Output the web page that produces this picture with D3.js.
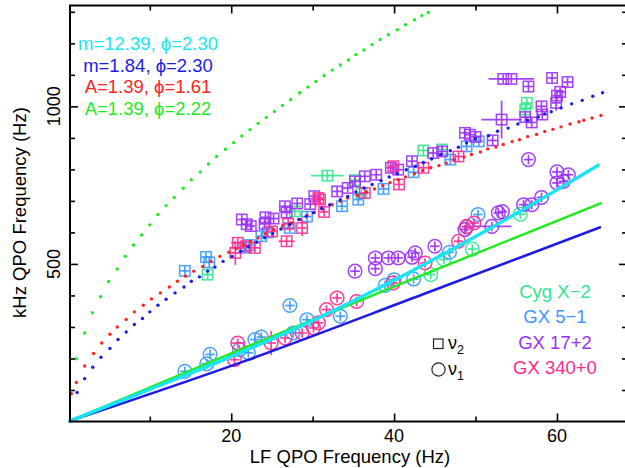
<!DOCTYPE html>
<html>
<head>
<meta charset="utf-8">
<script src="https://cdn.jsdelivr.net/npm/d3@7"></script>
<style>
  body { margin: 0; background: #fff; }
  text { font-family: "Liberation Sans", Arial, Helvetica, sans-serif; }
</style>
</head>
<body>
<svg id="chart" width="625" height="468"></svg>
<script>
// ---- data ----
// model curves, one dot each
const greenDots = [[0.98,199],[2.0,281],[2.95,345],[3.97,396],[4.95,444],[5.99,484],[7.0,524],[8.0,560],[9.0,592],[10.0,624],[11.0,657],[12.0,685],[13.0,711],[14.1,740],[15.1,767],[16.2,792],[17.2,817],[18.2,841],[19.3,864],[20.3,885],[21.3,906],[22.3,926],[23.3,946],[24.3,965],[25.3,984],[26.3,1003],[27.3,1022],[28.4,1043],[29.4,1061],[30.4,1079],[31.4,1098],[32.4,1115],[33.4,1131],[34.4,1147],[35.3,1164],[36.3,1179],[37.3,1196],[38.3,1212],[39.3,1227],[40.4,1243],[41.4,1259],[42.5,1275],[43.4,1288],[44.2,1298]];
const redDots = [[0.37,88],[0.98,124],[2.0,176],[3.1,216],[4.1,249],[5.1,277],[6.0,300],[7.1,324],[8.1,348],[9.2,369],[10.2,389],[11.3,408],[12.4,427],[13.4,445],[14.4,461],[15.4,477],[16.5,492],[17.5,508],[18.6,524],[19.7,537],[20.6,548],[21.5,560],[22.4,571],[23.3,582],[24.2,596],[25.2,609],[26.3,621],[27.4,631],[28.5,641],[29.3,654],[30.2,664],[31.2,674],[32.4,688],[33.4,699],[34.3,709],[35.5,718],[36.6,728],[37.6,738],[38.6,748],[39.5,758],[40.5,767],[41.4,776],[42.5,786],[43.5,796],[44.5,805],[45.5,812],[46.4,820],[47.4,831],[48.6,839],[49.5,847],[50.6,855],[51.5,865],[52.5,871],[53.4,879],[54.5,888],[55.4,894],[56.4,904],[57.5,911],[58.5,920],[59.5,927],[60.5,935],[61.6,944],[62.7,951],[63.3,956],[64.3,963],[65.4,971]];
const blueDots = [[1.07,92],[2.0,136],[3.0,172],[4.0,204],[5.1,232],[6.1,260],[7.1,284],[8.1,308],[9.1,327],[10.0,348],[11.0,369],[12.0,388],[13.1,408],[14.2,427],[15.1,445],[16.1,459],[17.1,477],[18.0,490],[19.0,508],[20.1,524],[21.2,540],[22.1,555],[23.1,569],[24.1,583],[25.1,596],[26.1,611],[27.2,625],[28.3,641],[29.2,651],[30.1,662],[31.1,676],[32.1,688],[33.4,704],[34.3,714],[35.3,728],[36.3,741],[37.3,752],[38.4,764],[39.4,776],[40.4,786],[41.5,799],[42.6,810],[43.6,822],[44.6,833],[45.7,847],[46.9,859],[47.9,870],[48.9,884],[50.0,897],[51.6,907],[52.7,921],[54.0,931],[55.2,944],[56.4,956],[57.7,966],[58.5,976],[59.3,983],[60.5,995],[61.8,1008],[63.1,1019],[64.4,1032],[65.6,1043]];

// solid model lines
const cyanLine = [[0,0],[10,102],[20,206],[30,320],[40,448],[50,587],[60,735],[65.2,815]];
const greenLine = [[0,0],[21.9,237],[41.8,447],[65.5,694]];
const blueLine = [[0,0],[21.9,194],[43.4,402],[65.4,617]];

// observations: [LF Hz, kHz QPO Hz, LF err, kHz err]
const gx51Upper = [[14.3,478,0.3,15],[16.9,522],[17.3,505],[21.6,551],[22.2,560],[23.7,588],[24.5,600],[27.2,614],[29.3,650],[33.6,683],[35.6,704,0.3,12],[38.7,738],[42.4,791,0.3,12],[46.9,831],[48.9,873],[50.4,889]];
const gx51Lower = [[14.3,159,0.3,15],[17.0,183],[17.4,213],[21.0,228],[22.1,218],[22.9,260],[23.7,268],[27.2,368],[27.6,281],[29.3,323],[33.4,334],[38.9,432],[40.0,450],[42.4,452],[46.8,537],[48.9,617],[50.3,657]];
const gx340Upper = [[20.5,535,0.3,38],[20.8,567,0.8,10],[21.8,556],[22.9,551],[25.0,603],[26.8,572,1.0,10],[27.0,627],[28.7,614,0.3,25],[30.7,709],[30.9,704],[31.4,665],[36.4,725],[39.9,810],[40.6,752],[43.6,805],[47.9,841]];
const gx340Lower = [[20.4,196],[20.8,249,0.8,8],[24.9,249,0.3,38],[26.6,265],[28.7,281],[30.1,297],[30.7,313],[31.7,355],[33.0,392],[35.4,381],[39.9,440],[43.8,503],[47.9,572],[48.9,619],[49.8,630]];
const gx172Upper = [[21.3,641],[21.9,626],[22.4,620],[24.2,648],[24.1,627],[25.2,644],[26.6,683],[26.8,663],[28.1,692],[29.7,690],[30.2,715],[33.0,730],[34.3,741],[35.2,762],[36.4,778],[37.8,783],[39.6,805],[40.5,799],[42.2,826],[44.8,852],[45.9,857],[48.7,916],[49.3,910],[50.0,903],[52.1,892],[53.2,958,2.5,60],[53.4,1087],[54.4,1087,2.8,8],[56.1,966],[56.5,1063],[56.9,949],[58.1,1000],[58.2,974],[59.4,1090],[59.9,1011,0.3,25],[60.0,1034],[60.4,1046],[61.3,1077]];
const gx172Lower = [[35.2,477],[37.7,519],[37.7,485],[39.3,519],[40.5,519],[42.2,521],[42.6,535],[45.0,556],[48.7,609],[52.0,619,2.4,8],[52.8,662],[53.3,666],[55.9,688],[56.9,688],[58.1,711],[56.5,831],[60.0,757],[60.8,762],[60.0,792],[61.4,783]];
const cygUpper = [[17.1,466,0.3,12],[27.8,667],[31.8,780,2.0,8],[35.2,766],[36.0,725],[43.6,860],[45.9,863],[56.1,990],[56.3,1011]];
const cygLower = [[44.5,466],[46.1,514],[49.6,547],[55.5,658]];

const sources = [
  { name: 'Cyg X\u22122', color: '#33e58e', upper: cygUpper, lower: cygLower },
  { name: 'GX 5\u22121', color: '#3a98ff', upper: gx51Upper, lower: gx51Lower },
  { name: 'GX 17+2', color: '#9a30f5', upper: gx172Upper, lower: gx172Lower },
  { name: 'GX 340+0', color: '#ff2b8f', upper: gx340Upper, lower: gx340Lower }
];

const modelLabels = [
  { text: 'm=12.39, \u03d5=2.30', color: '#18e4f2' },
  { text: 'm=1.84, \u03d5=2.30', color: '#1c1ce6' },
  { text: 'A=1.39, \u03d5=1.61', color: '#ff2222' },
  { text: 'A=1.39, \u03d5=2.22', color: '#22ea22' }
];

// ---- layout ----
const svg = d3.select('#chart');
const x = d3.scaleLinear().domain([0.2, 68.6]).range([70, 627]);
const y = d3.scaleLinear().domain([0, 1320]).range([421.5, 5.5]);

const plot = svg.append('g');

function errs(d) {
  return { ex: d[2] === undefined ? 0 : d[2], ey: d[3] === undefined ? 0 : d[3] };
}

function drawCross(g, d, color, arm) {
  const { ex, ey } = errs(d);
  const cx = x(d[0]), cy = y(d[1]);
  const hx = Math.max(x(d[0] + ex) - cx, arm);
  const hy = Math.max(cy - y(d[1] + ey), arm);
  g.append('line').attr('x1', cx - hx).attr('x2', cx + hx).attr('y1', cy).attr('y2', cy)
    .attr('stroke', color).attr('stroke-width', 1.7);
  g.append('line').attr('x1', cx).attr('x2', cx).attr('y1', cy - hy).attr('y2', cy + hy)
    .attr('stroke', color).attr('stroke-width', 1.7);
}

// observations
sources.forEach(s => {
  const g = plot.append('g').attr('stroke-opacity', 0.9);
  s.upper.forEach(d => {
    g.append('rect')
      .attr('x', x(d[0]) - 5.2).attr('y', y(d[1]) - 5.2)
      .attr('width', 10.4).attr('height', 10.4)
      .attr('fill', 'none').attr('stroke', s.color).attr('stroke-width', 1.5);
    drawCross(g, d, s.color, 4.6);
  });
  s.lower.forEach(d => {
    g.append('circle')
      .attr('cx', x(d[0])).attr('cy', y(d[1])).attr('r', 6.8)
      .attr('fill', 'none').attr('stroke', s.color).attr('stroke-width', 1.5);
    drawCross(g, d, s.color, 4.8);
  });
});

// solid model lines
const line = d3.line().x(d => x(d[0])).y(d => y(d[1])).curve(d3.curveMonotoneX);
plot.append('path').datum(blueLine).attr('d', line)
  .attr('fill', 'none').attr('stroke', '#1c1ce6').attr('stroke-width', 2.6);
plot.append('path').datum(greenLine).attr('d', line)
  .attr('fill', 'none').attr('stroke', '#22ea22').attr('stroke-width', 2.4);
plot.append('path').datum(cyanLine).attr('d', line)
  .attr('fill', 'none').attr('stroke', '#18e4f2').attr('stroke-width', 3.4);

// dotted model curves
[[greenDots, '#22ea22'], [redDots, '#ff2222'], [blueDots, '#1c1ce6']].forEach(([pts, c]) => {
  plot.append('g').selectAll('circle')
    .data(pts)
    .enter()
    .append('circle')
    .attr('cx', d => x(d[0]))
    .attr('cy', d => y(d[1]))
    .attr('r', 1.7)
    .attr('fill', c);
});

// ---- axes / frame ----
const frame = svg.append('g');
frame.append('rect')
  .attr('x', 70).attr('y', 5.5).attr('width', 557).attr('height', 416)
  .attr('fill', 'none').attr('stroke', '#000').attr('stroke-width', 2);

const xMajor = [20, 40, 60];
const xMinor = [10, 30, 50];
const yMajor = [500, 1000];
const yMinor = [100, 200, 300, 400, 600, 700, 800, 900, 1100, 1200, 1300];

function tickAxis(axisFn, scale, vals, size, transform) {
  const g = frame.append('g')
    .attr('transform', transform)
    .call(axisFn(scale).tickValues(vals).tickSize(-size).tickFormat(''));
  g.select('.domain').remove();
  g.selectAll('line').attr('stroke', '#000').attr('stroke-width', 1.6);
  return g;
}
tickAxis(d3.axisBottom, x, xMajor, 8, 'translate(0,421.5)');
tickAxis(d3.axisBottom, x, xMinor, 5, 'translate(0,421.5)');
tickAxis(d3.axisTop, x, xMajor, 8, 'translate(0,5.5)');
tickAxis(d3.axisTop, x, xMinor, 5, 'translate(0,5.5)');
tickAxis(d3.axisLeft, y, yMajor, 8, 'translate(70,0)');
tickAxis(d3.axisLeft, y, yMinor, 5, 'translate(70,0)');
tickAxis(d3.axisRight, y, yMajor, 8, 'translate(627,0)');
tickAxis(d3.axisRight, y, yMinor, 5, 'translate(627,0)');

svg.append('g').selectAll('text')
  .data(xMajor)
  .enter()
  .append('text')
  .attr('x', d => x(d))
  .attr('y', 441.7)
  .attr('text-anchor', 'middle')
  .style('font-size', '18px')
  .text(d => d);

svg.append('g').selectAll('text')
  .data(yMajor)
  .enter()
  .append('text')
  .attr('transform', d => `translate(60,${y(d)}) rotate(-90)`)
  .attr('text-anchor', 'middle')
  .style('font-size', '18px')
  .text(d => d);

svg.append('text')
  .attr('x', 350).attr('y', 463)
  .attr('text-anchor', 'middle')
  .style('font-size', '18.5px')
  .text('LF QPO Frequency (Hz)');

svg.append('text')
  .attr('transform', 'translate(26,212.5) rotate(-90)')
  .attr('text-anchor', 'middle')
  .style('font-size', '18.5px')
  .text('kHz QPO Frequency (Hz)');

// ---- legends ----
svg.append('g').selectAll('text')
  .data(modelLabels)
  .enter()
  .append('text')
  .attr('x', 148)
  .attr('y', (d, i) => 50 + i * 21.7)
  .attr('text-anchor', 'middle')
  .style('font-size', '18.5px')
  .style('fill', d => d.color)
  .text(d => d.text);

svg.append('g').selectAll('text')
  .data(sources)
  .enter()
  .append('text')
  .attr('x', 555)
  .attr('y', (d, i) => 298 + i * 25.4)
  .attr('text-anchor', 'middle')
  .style('font-size', '18.5px')
  .style('fill', d => d.color)
  .text(d => d.name);

const sym = svg.append('g');
sym.append('rect').attr('x', 433.5).attr('y', 339).attr('width', 9.5).attr('height', 9.5)
  .attr('fill', 'none').attr('stroke', '#222').attr('stroke-width', 1.2);
sym.append('circle').attr('cx', 438.5).attr('cy', 369.5).attr('r', 6.6)
  .attr('fill', 'none').attr('stroke', '#222').attr('stroke-width', 1.2);
[['2', 349.3], ['1', 375.2]].forEach(([sub, by]) => {
  const t = sym.append('text').attr('x', 448).attr('y', by).style('font-size', '18px');
  t.append('tspan').text('\u03bd');
  t.append('tspan').attr('dy', 5).style('font-size', '12.5px').text(sub);
});
</script>
</body>
</html>
